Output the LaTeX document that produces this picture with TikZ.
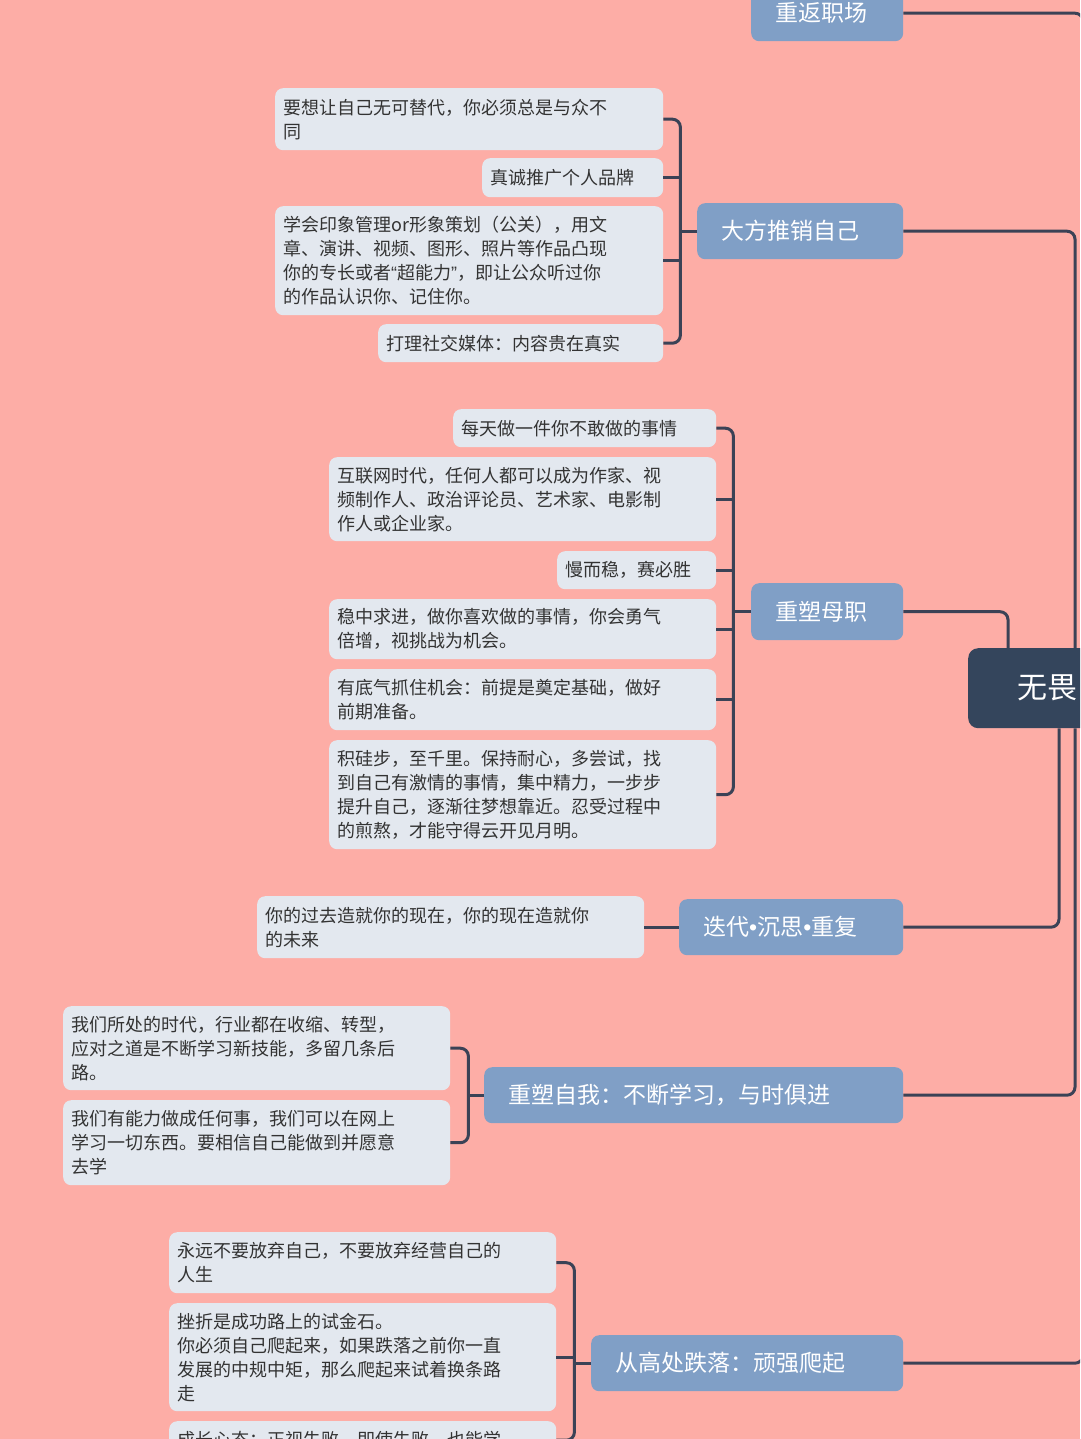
\documentclass[tikz,border=0pt]{standalone}
\usepackage{fontspec}
\newfontfamily\cjk{Noto Sans CJK SC}
\newfontfamily\latn{Liberation Sans}
\newcommand{\nbul}{{\latn •}}
\newcommand{\nlq}{{\latn “}}
\newcommand{\nrq}{{\latn ”}}
\definecolor{bgc}{HTML}{FDADA6}
\definecolor{leafc}{HTML}{E3E8EF}
\definecolor{leaftext}{HTML}{333333}
\definecolor{branchc}{HTML}{809FC6}
\definecolor{rootc}{HTML}{34455C}
\definecolor{linec}{HTML}{3B4256}
\tikzset{
  leaf/.style={fill=leafc, rounded corners=8pt, anchor=north west, align=left,
    inner xsep=8pt, inner ysep=0pt, text=leaftext,
    font=\cjk\fontsize{18pt}{24pt}\selectfont},
  branch/.style={fill=branchc, rounded corners=8pt, anchor=north west, align=left,
    inner xsep=24pt, inner ysep=0pt, text=white,
    font=\cjk\fontsize{23pt}{28pt}\selectfont},
  rootbox/.style={fill=rootc, rounded corners=10pt, anchor=north west, align=left,
    inner xsep=49pt, inner ysep=0pt, text=white,
    font=\cjk\fontsize{30pt}{36pt}\selectfont},
  conn/.style={draw=linec, line width=3pt, rounded corners=8pt}
}
\begin{document}
\begin{tikzpicture}[x=1pt,y=-1pt]
\useasboundingbox (0,0) rectangle (1080,1439);
\clip (0,0) rectangle (1080,1439);
\fill[bgc] (0,0) rectangle (1080,1439);

% root
\node[rootbox, minimum width=230pt, minimum height=80pt, text width=132pt] (R) at (968,648) {无畏};

% branches
\node[branch, minimum width=152pt, minimum height=56pt, text width=104pt] (B0) at (751,-15) {重返职场};
\node[branch, minimum width=206pt, minimum height=56pt, text width=158pt] (B1) at (697,203) {大方推销自己};
\node[branch, minimum width=152pt, minimum height=57pt, text width=104pt] (B2) at (751,583) {重塑母职};
\node[branch, minimum width=224pt, minimum height=56pt, text width=176pt] (B3) at (679,899) {迭代\nbul 沉思\nbul 重复};
\node[branch, minimum width=419pt, minimum height=56pt, text width=371pt] (B4) at (484,1067) {重塑自我：不断学习，与时俱进};
\node[branch, minimum width=312pt, minimum height=56pt, text width=264pt] (B5) at (591,1335) {从高处跌落：顽强爬起};

% group 1
\node[leaf, minimum width=388pt, minimum height=62pt, text width=372pt] (L1) at (275,88) {要想让自己无可替代，你必须总是与众不\\同};
\node[leaf, minimum width=181pt, minimum height=39pt, text width=165pt] (L2) at (482,158) {真诚推广个人品牌};
\node[leaf, minimum width=388pt, minimum height=109pt, text width=372pt] (L3) at (275,206) {学会印象管理or形象策划（公关），用文\\章、演讲、视频、图形、照片等作品凸现\\你的专长或者\nlq 超能力\nrq ，即让公众听过你\\的作品认识你、记住你。};
\node[leaf, minimum width=285pt, minimum height=38pt, text width=269pt] (L4) at (378,324) {打理社交媒体：内容贵在真实};

% group 2
\node[leaf, minimum width=263pt, minimum height=38pt, text width=247pt] (M1) at (453,409) {每天做一件你不敢做的事情};
\node[leaf, minimum width=387pt, minimum height=84pt, text width=371pt] (M2) at (329,457) {互联网时代，任何人都可以成为作家、视\\频制作人、政治评论员、艺术家、电影制\\作人或企业家。};
\node[leaf, minimum width=159pt, minimum height=38pt, text width=143pt] (M3) at (557,551) {慢而稳，赛必胜};
\node[leaf, minimum width=387pt, minimum height=60pt, text width=371pt] (M4) at (329,599) {稳中求进，做你喜欢做的事情，你会勇气\\倍增，视挑战为机会。};
\node[leaf, minimum width=387pt, minimum height=61pt, text width=371pt] (M5) at (329,669) {有底气抓住机会：前提是奠定基础，做好\\前期准备。};
\node[leaf, minimum width=387pt, minimum height=109pt, text width=371pt] (M6) at (329,740) {积硅步，至千里。保持耐心，多尝试，找\\到自己有激情的事情，集中精力，一步步\\提升自己，逐渐往梦想靠近。忍受过程中\\的煎熬，才能守得云开见月明。};

% group 3
\node[leaf, minimum width=387pt, minimum height=62pt, text width=371pt] (C1) at (257,896) {你的过去造就你的现在，你的现在造就你\\的未来};

% group 4
\node[leaf, minimum width=387pt, minimum height=84pt, text width=371pt] (S1) at (63,1006) {我们所处的时代，行业都在收缩、转型，\\应对之道是不断学习新技能，多留几条后\\路。};
\node[leaf, minimum width=387pt, minimum height=85pt, text width=371pt] (S2) at (63,1100) {我们有能力做成任何事，我们可以在网上\\学习一切东西。要相信自己能做到并愿意\\去学};

% group 5
\node[leaf, minimum width=387pt, minimum height=61pt, text width=371pt] (F1) at (169,1232) {永远不要放弃自己，不要放弃经营自己的\\人生};
\node[leaf, minimum width=387pt, minimum height=108pt, text width=371pt] (F2) at (169,1303) {挫折是成功路上的试金石。\\你必须自己爬起来，如果跌落之前你一直\\发展的中规中矩，那么爬起来试着换条路\\走};
\node[leaf, minimum width=387pt, minimum height=38pt, text width=371pt] (F3) at (169,1421) {成长心态：正视失败，即使失败，也能学};

% root connectors
\draw[conn] (B0.east) -| ([xshift=115pt]R.north west);
\draw[conn] (B1.east) -| ([xshift=107pt]R.north west);
\draw[conn] (B2.east) -| ([xshift=40pt]R.north west);
\draw[conn] (B3.east) -| ([xshift=91pt]R.south west);
\draw[conn] (B4.east) -| ([xshift=107pt]R.south west);
\draw[conn] (B5.east) -| ([xshift=115pt]R.south west);

% group 1 bracket
\draw[conn] (L1.east) -| ([xshift=17pt]L4.east) -- (L4.east);
\draw[conn] (L2.east) -- ++(17,0);
\draw[conn] (L3.east) -- ++(17,0);
\draw[conn] (B1.west) -- ++(-17,0);

% group 2 bracket
\draw[conn] (M1.east) -| ([xshift=17pt]M6.east) -- (M6.east);
\draw[conn] (M2.east) -- ++(17,0);
\draw[conn] (M3.east) -- ++(17,0);
\draw[conn] (M4.east) -- ++(17,0);
\draw[conn] (M5.east) -- ++(17,0);
\draw[conn] (B2.west) -- ++(-18,0);

% group 3
\draw[conn] (C1.east) -- (B3.west);

% group 4 bracket
\draw[conn] (S1.east) -| ([xshift=18pt]S2.east) -- (S2.east);
\draw[conn] (B4.west) -- ++(-16,0);

% group 5 bracket
\draw[conn] (F1.east) -| ([xshift=18pt]F3.east) -- (F3.east);
\draw[conn] (F2.east) -- ++(18,0);
\draw[conn] (B5.west) -- ++(-17,0);
\end{tikzpicture}
\end{document}
